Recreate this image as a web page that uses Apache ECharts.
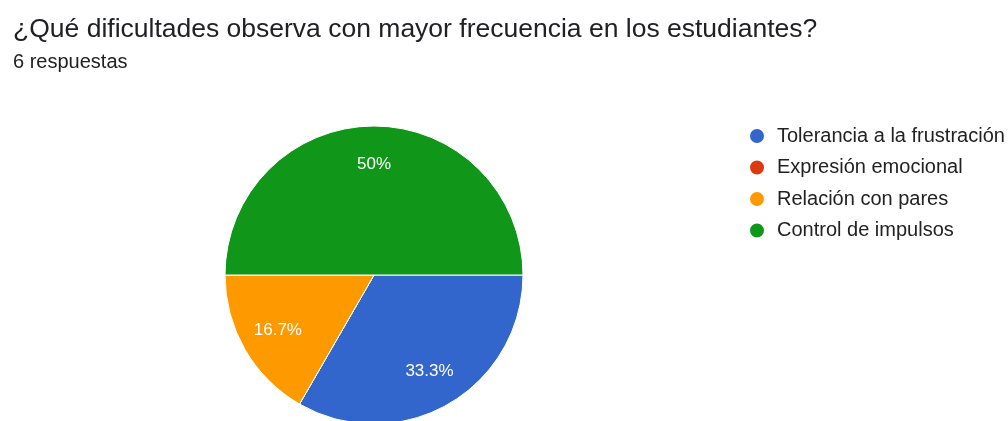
<!DOCTYPE html>
<html>
<head>
<meta charset="utf-8">
<script src="https://cdn.jsdelivr.net/npm/echarts@6/dist/echarts.min.js"></script>
<style>
  html, body { margin: 0; padding: 0; background: #ffffff; }
  #chart { width: 1008px; height: 421px; }
</style>
</head>
<body>
<div id="chart"></div>
<script>
// Survey answers: "¿Qué dificultades observa con mayor frecuencia en los estudiantes?"
const categories = [
  'Tolerancia a la frustración',
  'Expresión emocional',
  'Relación con pares',
  'Control de impulsos'
];
const responses = [2, 0, 1, 3];
const sliceColors = ['#3366cc', '#dc3912', '#ff9900', '#109618'];
const totalResponses = 6;

const chart = echarts.init(document.getElementById('chart'), null, { renderer: 'canvas' });

const FONT = '"Liberation Sans", Arial, sans-serif';
const CENTER = [374, 275];
const RADIUS = 149;

const pieData = categories.map((name, i) => ({
  name,
  value: responses[i],
  itemStyle: { color: sliceColors[i] }
}));

chart.setOption({
  animation: false,
  title: [
    {
      text: '¿Qué dificultades observa con mayor frecuencia en los estudiantes?',
      left: 8,
      top: 11,
      textStyle: { fontFamily: FONT, fontSize: 26.5, fontWeight: 'normal', color: '#202124' }
    },
    {
      text: totalResponses + ' respuestas',
      left: 8,
      top: 47,
      textStyle: { fontFamily: FONT, fontSize: 20, fontWeight: 'normal', color: '#202124' }
    }
  ],
  legend: {
    orient: 'vertical',
    left: 743,
    top: 121,
    icon: 'circle',
    itemWidth: 30,
    itemHeight: 16,
    itemGap: 11.5,
    data: categories,
    textStyle: { fontFamily: FONT, fontSize: 20, lineHeight: 20, color: '#222222' }
  },
  series: [
    {
      type: 'pie',
      center: CENTER,
      radius: [0, RADIUS],
      startAngle: 0,
      clockwise: true,
      data: pieData,
      label: { show: false },
      labelLine: { show: false },
      itemStyle: { borderColor: '#ffffff', borderWidth: 1 },
      emphasis: { disabled: true }
    },
    {
      // percentage labels, placed well out towards the rim
      type: 'pie',
      center: CENTER,
      radius: [RADIUS * 0.45, RADIUS],
      startAngle: 0,
      clockwise: true,
      silent: true,
      data: pieData.map(d => ({ name: d.name, value: d.value, itemStyle: { color: 'rgba(0,0,0,0)' } })),
      itemStyle: { borderWidth: 0 },
      label: {
        show: true,
        position: 'inside',
        color: '#ffffff',
        fontFamily: FONT,
        fontSize: 17,
        formatter: p => p.value > 0 ? (Math.round(p.value / totalResponses * 1000) / 10) + '%' : ''
      },
      labelLine: { show: false },
      emphasis: { disabled: true }
    }
  ]
});
</script>
</body>
</html>
